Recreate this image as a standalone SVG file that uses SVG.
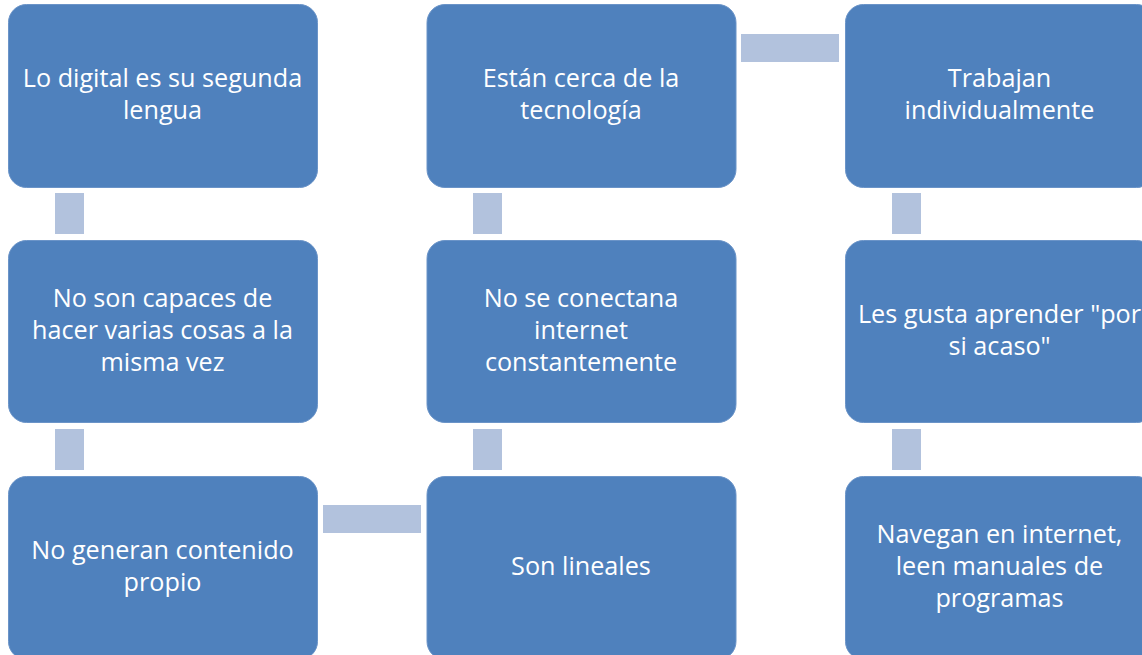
<svg xmlns="http://www.w3.org/2000/svg" width="1142" height="655" viewBox="0 0 1142 655">
<style>
.box{fill:#4F81BD;stroke:#6B94C8;stroke-width:1}
.con{fill:#B2C2DD}
.t{font-family:"Open Sans","Liberation Sans",sans-serif;font-size:25.2px;fill:#FFFFFF;text-anchor:middle}
</style>
<rect width="1142" height="655" fill="#FFFFFF"/>
<g id="connectors">
<rect class="con" x="55" y="193" width="29" height="41"/>
<rect class="con" x="55" y="429" width="29" height="41"/>
<rect class="con" x="473" y="193" width="29" height="41"/>
<rect class="con" x="473" y="429" width="29" height="41"/>
<rect class="con" x="892" y="193" width="29" height="41"/>
<rect class="con" x="892" y="429" width="29" height="41"/>
<rect class="con" x="741" y="34" width="98" height="28"/>
<rect class="con" x="323" y="505" width="98" height="28"/>
</g>
<g id="n1"><rect class="box" x="8.5" y="4.5" width="309" height="183" rx="18"/>
<text class="t"><tspan x="162.5" y="87">Lo digital es su segunda</tspan><tspan x="162.5" y="119">lengua</tspan></text></g>
<g id="n2"><rect class="box" x="8.5" y="240.5" width="309" height="182" rx="18"/>
<text class="t"><tspan x="162.5" y="307">No son capaces de</tspan><tspan x="162.5" y="339">hacer varias cosas a la</tspan><tspan x="162.5" y="371">misma vez</tspan></text></g>
<g id="n3"><rect class="box" x="8.5" y="476.5" width="309" height="183" rx="18"/>
<text class="t"><tspan x="162.5" y="559">No generan contenido</tspan><tspan x="162.5" y="591">propio</tspan></text></g>
<g id="n4"><rect class="box" x="427" y="4.5" width="309" height="183" rx="18"/>
<text class="t"><tspan x="581" y="87">Están cerca de la</tspan><tspan x="581" y="119">tecnología</tspan></text></g>
<g id="n5"><rect class="box" x="427" y="240.5" width="309" height="182" rx="18"/>
<text class="t"><tspan x="581" y="307">No se conectana</tspan><tspan x="581" y="339">internet</tspan><tspan x="581" y="371">constantemente</tspan></text></g>
<g id="n6"><rect class="box" x="427" y="476.5" width="309" height="183" rx="18"/>
<text class="t"><tspan x="581" y="575">Son lineales</tspan></text></g>
<g id="n7"><rect class="box" x="845.5" y="4.5" width="309" height="183" rx="18"/>
<text class="t"><tspan x="999.5" y="87">Trabajan</tspan><tspan x="999.5" y="119">individualmente</tspan></text></g>
<g id="n8"><rect class="box" x="845.5" y="240.5" width="309" height="182" rx="18"/>
<text class="t"><tspan x="999.5" y="323">Les gusta aprender "por</tspan><tspan x="999.5" y="355">si acaso"</tspan></text></g>
<g id="n9"><rect class="box" x="845.5" y="476.5" width="309" height="183" rx="18"/>
<text class="t"><tspan x="999.5" y="543">Navegan en internet,</tspan><tspan x="999.5" y="575">leen manuales de</tspan><tspan x="999.5" y="607">programas</tspan></text></g>
</svg>
